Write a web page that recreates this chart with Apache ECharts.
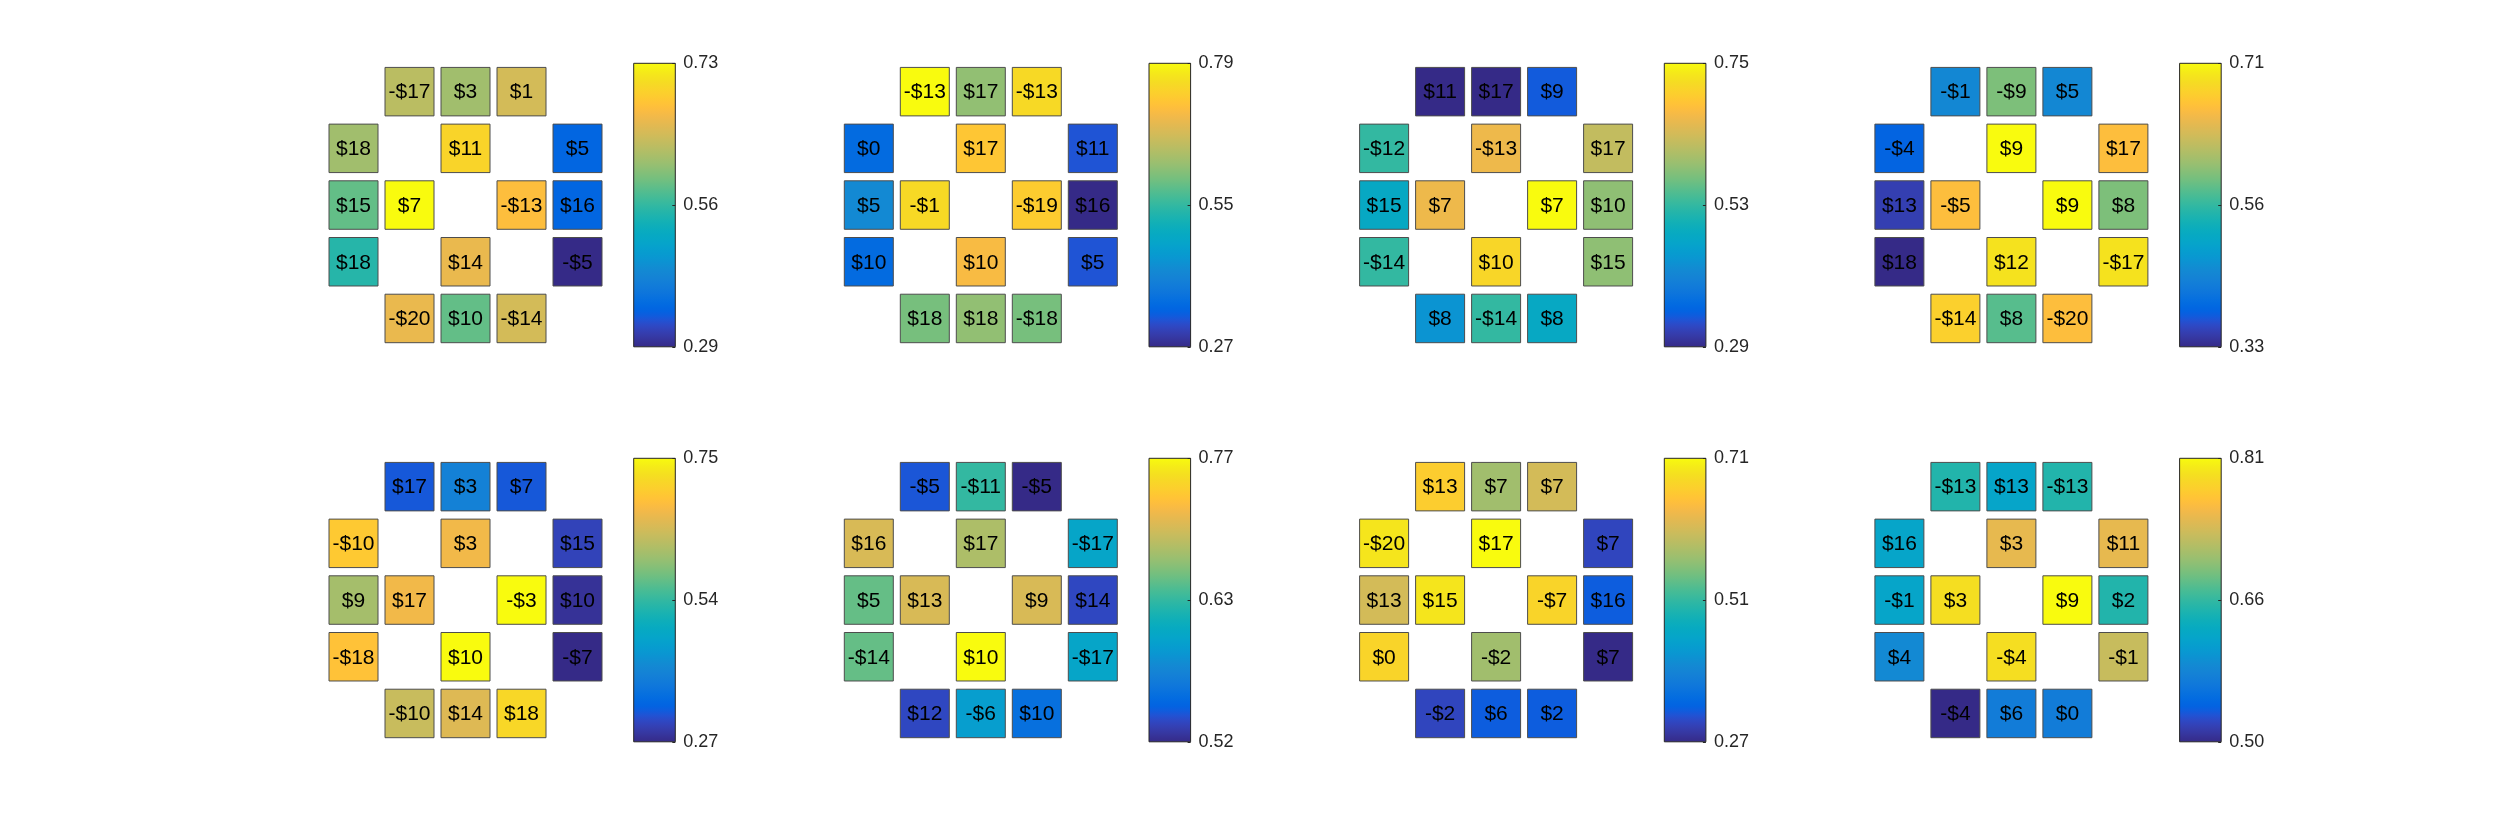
<!DOCTYPE html>
<html>
<head>
<meta charset="utf-8">
<script src="https://cdn.jsdelivr.net/npm/echarts@6/dist/echarts.min.js"></script>
<style>html,body{margin:0;padding:0;background:#fff;}#chart{width:2500px;height:833px;}</style>
</head>
<body>
<div id="chart"></div>
<script>
// ---- grid positions of the cells (column, row) shared by all panels ----
const cellCols = [2,3,4, 1,3,5, 1,2,4,5, 1,3,5, 2,3,4];
const cellRows = [1,1,1, 2,2,2, 3,3,3,3, 4,4,4, 5,5,5];

// ---- panel 1 ----
const labels1 = ['-$17','$3','$1','$18','$11','$5','$15','$7','-$13','$16','$18','$14','-$5','-$20','$10','-$14'];
const values1 = [0.60,0.58,0.62,0.58,0.69,0.35,0.54,0.73,0.66,0.35,0.50,0.64,0.29,0.64,0.54,0.62];
const clim1 = [0.29,0.73];
const ticks1 = ['0.29','0.56','0.73'];
// ---- panel 2 ----
const labels2 = ['-$13','$17','-$13','$0','$17','$11','$5','-$1','-$19','$16','$10','$10','$5','$18','$18','-$18'];
const values2 = [0.79,0.60,0.75,0.35,0.72,0.32,0.41,0.75,0.73,0.27,0.35,0.70,0.32,0.58,0.60,0.58];
const clim2 = [0.27,0.79];
const ticks2 = ['0.27','0.55','0.79'];
// ---- panel 3 ----
const labels3 = ['$11','$17','$9','-$12','-$13','$17','$15','$7','$7','$10','-$14','$10','$15','$8','-$14','$8'];
const values3 = [0.29,0.29,0.34,0.52,0.66,0.62,0.47,0.66,0.75,0.58,0.52,0.71,0.58,0.43,0.52,0.47];
const clim3 = [0.29,0.75];
const ticks3 = ['0.29','0.53','0.75'];
// ---- panel 4 ----
const labels4 = ['-$1','-$9','$5','-$4','$9','$17','$13','-$5','$9','$8','$18','$12','-$17','-$14','$8','-$20'];
const values4 = [0.43,0.56,0.43,0.38,0.71,0.65,0.35,0.65,0.71,0.56,0.33,0.69,0.69,0.67,0.54,0.65];
const clim4 = [0.33,0.71];
const ticks4 = ['0.33','0.56','0.71'];
// ---- panel 5 ----
const labels5 = ['$17','$3','$7','-$10','$3','$15','$9','$17','-$3','$10','-$18','$10','-$7','-$10','$14','$18'];
const values5 = [0.32,0.385,0.32,0.69,0.66,0.30,0.59,0.66,0.75,0.28,0.68,0.75,0.27,0.62,0.64,0.71];
const clim5 = [0.27,0.75];
const ticks5 = ['0.27','0.54','0.75'];
// ---- panel 6 ----
const labels6 = ['-$5','-$11','-$5','$16','$17','-$17','$5','$13','$9','$14','-$14','$10','-$17','$12','-$6','$10'];
const values6 = [0.545,0.645,0.52,0.71,0.69,0.613,0.663,0.71,0.71,0.538,0.663,0.77,0.613,0.538,0.605,0.563];
const clim6 = [0.52,0.77];
const ticks6 = ['0.52','0.63','0.77'];
// ---- panel 7 ----
const labels7 = ['$13','$7','$7','-$20','$17','$7','$13','$15','-$7','$16','$0','-$2','$7','-$2','$6','$2'];
const values7 = [0.66,0.56,0.60,0.69,0.71,0.30,0.60,0.69,0.67,0.32,0.67,0.56,0.27,0.30,0.32,0.32];
const clim7 = [0.27,0.71];
const ticks7 = ['0.27','0.51','0.71'];
// ---- panel 8 ----
const labels8 = ['-$13','$13','-$13','$16','$3','$11','-$1','$3','$9','$2','$4','-$4','-$1','-$4','$6','$0'];
const values8 = [0.646,0.615,0.646,0.615,0.745,0.745,0.615,0.79,0.81,0.646,0.584,0.79,0.726,0.50,0.568,0.568];
const clim8 = [0.50,0.81];
const ticks8 = ['0.50','0.66','0.81'];

const panels = [
  [labels1,values1,clim1,ticks1],[labels2,values2,clim2,ticks2],
  [labels3,values3,clim3,ticks3],[labels4,values4,clim4,ticks4],
  [labels5,values5,clim5,ticks5],[labels6,values6,clim6,ticks6],
  [labels7,values7,clim7,ticks7],[labels8,values8,clim8,ticks8]
];

// parula colormap (64 entries)
const PARULA_RGB = [[0.2081,0.1663,0.5292],[0.2116,0.1898,0.5777],[0.2123,0.2138,0.6270],[0.2081,0.2386,0.6771],[0.1959,0.2645,0.7279],[0.1707,0.2919,0.7792],[0.1253,0.3242,0.8303],[0.0591,0.3598,0.8683],[0.0117,0.3875,0.8820],[0.0060,0.4086,0.8828],[0.0165,0.4266,0.8786],[0.0329,0.4430,0.8720],[0.0498,0.4586,0.8641],[0.0629,0.4737,0.8554],[0.0723,0.4887,0.8467],[0.0779,0.5040,0.8384],[0.0793,0.5200,0.8312],[0.0749,0.5375,0.8263],[0.0641,0.5570,0.8240],[0.0488,0.5772,0.8228],[0.0343,0.5966,0.8199],[0.0265,0.6137,0.8135],[0.0239,0.6287,0.8038],[0.0231,0.6418,0.7913],[0.0228,0.6535,0.7768],[0.0267,0.6642,0.7607],[0.0384,0.6743,0.7436],[0.0590,0.6838,0.7254],[0.0843,0.6928,0.7062],[0.1133,0.7015,0.6859],[0.1453,0.7098,0.6646],[0.1801,0.7177,0.6424],[0.2178,0.7250,0.6193],[0.2586,0.7317,0.5954],[0.3022,0.7376,0.5712],[0.3482,0.7424,0.5473],[0.3953,0.7459,0.5244],[0.4420,0.7481,0.5033],[0.4871,0.7491,0.4840],[0.5300,0.7491,0.4661],[0.5709,0.7485,0.4494],[0.6099,0.7473,0.4337],[0.6473,0.7456,0.4188],[0.6834,0.7435,0.4044],[0.7184,0.7411,0.3905],[0.7525,0.7384,0.3768],[0.7858,0.7356,0.3633],[0.8185,0.7327,0.3498],[0.8507,0.7299,0.3360],[0.8824,0.7274,0.3217],[0.9139,0.7258,0.3063],[0.9450,0.7261,0.2886],[0.9739,0.7314,0.2666],[0.9938,0.7455,0.2403],[0.9990,0.7653,0.2164],[0.9955,0.7861,0.1967],[0.9880,0.8066,0.1794],[0.9789,0.8271,0.1633],[0.9697,0.8481,0.1475],[0.9626,0.8705,0.1309],[0.9589,0.8949,0.1132],[0.9598,0.9218,0.0948],[0.9661,0.9514,0.0755],[0.9763,0.9831,0.0538]];
const toHex = c => '#' + c.map(v => Math.round(v*255).toString(16).padStart(2,'0')).join('');
const PARULA = PARULA_RGB.map(toHex);

const FONT = '"Liberation Sans", Arial, Helvetica, sans-serif';
const TXT = '#262626';

// layout
const L0 = 325.5, T0 = 63.3, DX = 515.3, DY = 395, GW = 280, GH = 283.5;
const CB_L0 = 633.7, CB_W = 41.6;

const grid = [], xAxis = [], yAxis = [], series = [], visualMap = [];

panels.forEach((p, k) => {
  const [labels, values, clim, ticks] = p;
  const c = k % 4, r = Math.floor(k / 4);
  const left = L0 + DX*c, top = T0 + DY*r;
  // cell grid
  grid.push({left: left, top: top, width: GW, height: GH});
  xAxis.push({type:'value', gridIndex: 2*k, min:0.5, max:5.5, show:false});
  yAxis.push({type:'value', gridIndex: 2*k, min:0.5, max:5.5, inverse:true, show:false});
  // colorbar grid
  grid.push({left: CB_L0 + DX*c, top: top, width: CB_W, height: GH});
  xAxis.push({type:'value', gridIndex: 2*k+1, min:0, max:1, show:false});
  yAxis.push({type:'value', gridIndex: 2*k+1, min:0, max:2, interval:1, position:'right', z:5,
    axisLine:{show:false, onZero:false}, splitLine:{show:false},
    axisTick:{show:true, inside:true, length:3,
      interval: (i, v) => Number(v) === 1,
      lineStyle:{color:TXT, width:1}},
    axisLabel:{show:true, margin:8, color:TXT, fontSize:18, fontFamily:FONT,
      showMinLabel:true, showMaxLabel:true,
      formatter: v => ticks[Math.round(v)]}});

  const data = values.map((v, i) => [cellCols[i], cellRows[i], v]);
  const sIdx = series.length;
  series.push({
    type:'custom', xAxisIndex: 2*k, yAxisIndex: 2*k,
    dimensions:['col','row','val'],
    encode:{x:0, y:1},
    data: data,
    renderItem: (params, api) => {
      const pt = api.coord([api.value(0), api.value(1)]);
      const sz = api.size([1,1]);
      const w = sz[0]*0.875, h = sz[1]*0.855;
      return {type:'group', children:[
        {type:'rect', shape:{x:pt[0]-w/2, y:pt[1]-h/2, width:w, height:h},
         style:{fill: api.visual('color'), stroke:'#4d4d4d', lineWidth:1}},
        {type:'text', x:pt[0], y:pt[1]+1,
         style:{text: labels[params.dataIndex], fill:'#000', font:'21px ' + FONT,
                align:'center', verticalAlign:'middle'}}
      ]};
    }
  });
  visualMap.push({type:'continuous', show:false, seriesIndex: sIdx, dimension:2,
    min: clim[0], max: clim[1], inRange:{color: PARULA}});

  // colorbar
  series.push({
    type:'custom', xAxisIndex: 2*k+1, yAxisIndex: 2*k+1, z:1, silent:true,
    data:[[0,0]],
    renderItem: (params, api) => {
      const p0 = api.coord([0,0]), p1 = api.coord([1,2]);
      const stops = PARULA.map((col, i) => ({offset: i/(PARULA.length-1), color: col}));
      return {type:'rect',
        shape:{x:p0[0], y:p1[1], width:p1[0]-p0[0], height:p0[1]-p1[1]},
        style:{fill: new echarts.graphic.LinearGradient(0,1,0,0, stops), stroke:TXT, lineWidth:1}};
    }
  });
});

const chart = echarts.init(document.getElementById('chart'), null, {renderer:'canvas'});
chart.setOption({
  backgroundColor:'#ffffff',
  animation:false,
  grid, xAxis, yAxis, series, visualMap
});
</script>
</body>
</html>
